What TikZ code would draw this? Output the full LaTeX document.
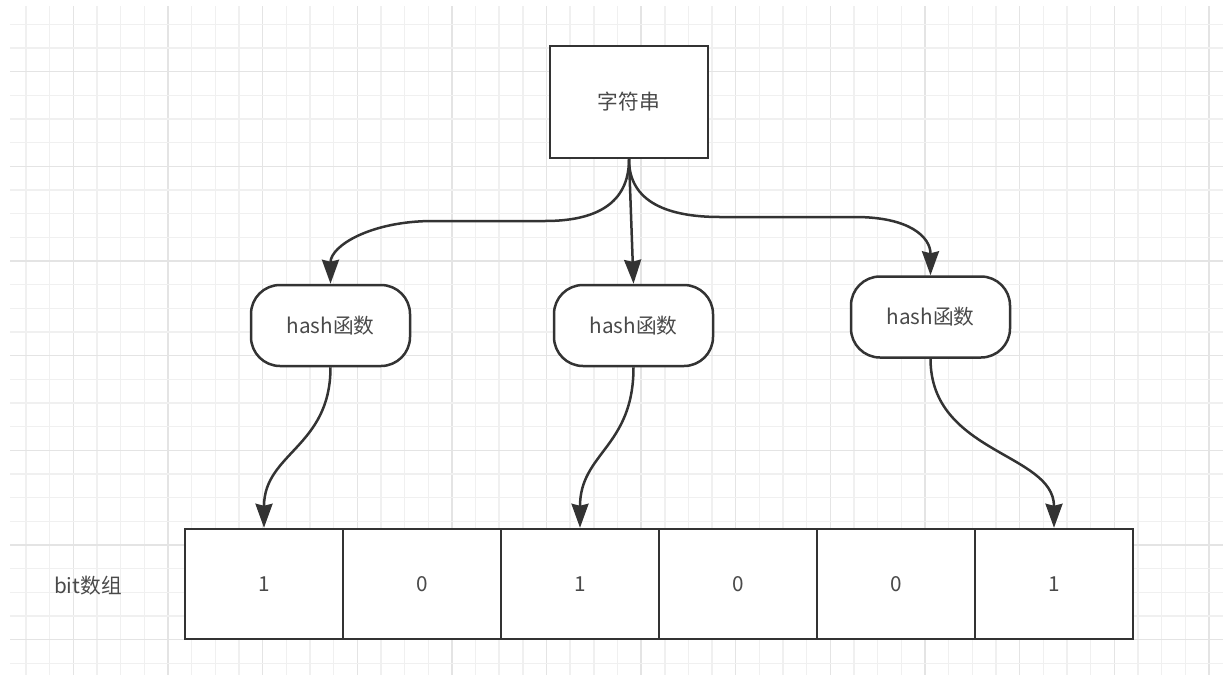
\documentclass[tikz,border=0pt]{standalone}
\usepackage{fontspec}
\setmainfont{Noto Sans CJK SC}
\usetikzlibrary{arrows.meta}
\definecolor{linec}{HTML}{333333}
\definecolor{textc}{HTML}{4A4A4A}
\definecolor{gridminor}{HTML}{F0F0F0}
\definecolor{gridmajor}{HTML}{E4E4E4}
\tikzset{
  lbl/.style={text=textc, font=\fontsize{20.7}{24}\selectfont, inner sep=0pt},
  strbox/.style={lbl, draw=linec, line width=2.5pt, fill=white, minimum width=158pt, minimum height=112pt},
  hashbox/.style={lbl, draw=linec, line width=2.5pt, fill=white, rounded corners=29pt, minimum width=159pt, minimum height=81pt},
  cellbox/.style={lbl, draw=linec, line width=2.5pt, fill=white, minimum width=158pt, minimum height=110pt},
  conn/.style={draw=linec, line width=2.5pt, -{Stealth[length=24pt,width=17pt,inset=2pt]}},
  gminor/.style={draw=gridminor, line width=1.4pt},
  gmajor/.style={draw=gridmajor, line width=1.4pt}
}
\begin{document}
\begin{tikzpicture}[x=1pt,y=-1pt]
\useasboundingbox (0,0) rectangle (1223,675);
\fill[white] (0,0) rectangle (1223,675);
% grid
\foreach \k in {-2,...,48}{
  \pgfmathsetmacro{\xx}{73.3+\k*23.66}
  \pgfmathtruncatemacro{\mm}{mod(\k+8,4)}
  \ifnum\mm=0 \draw[gmajor] (\xx,6) -- (\xx,675); \else \draw[gminor] (\xx,6) -- (\xx,675); \fi
}
\foreach \k in {-2,...,25}{
  \pgfmathsetmacro{\yy}{71.7+\k*23.66}
  \pgfmathtruncatemacro{\mm}{mod(\k+8,4)}
  \ifnum\mm=0 \draw[gmajor] (10,\yy) -- (1223,\yy); \else \draw[gminor] (10,\yy) -- (1223,\yy); \fi
}
% nodes
\node[strbox] (str) at (629,102) {字符串};
\node[hashbox] (h1) at (330.5,325.5) {hash函数};
\node[hashbox] (h2) at (633.5,325.5) {hash函数};
\node[hashbox] (h3) at (930.5,317) {hash函数};
\node[cellbox] (c1) at (264,584) {1};
\node[cellbox] (c2) at (422,584) {0};
\node[cellbox] (c3) at (580,584) {1};
\node[cellbox] (c4) at (738,584) {0};
\node[cellbox] (c5) at (896,584) {0};
\node[cellbox] (c6) at (1054,584) {1};
\node[lbl] (arr) at (88,586) {bit数组};
% waypoints
\coordinate (wl1) at (545,221);
\coordinate (wl2) at (433,221);
\coordinate (wr1) at (720,217);
\coordinate (wr2) at (855,217);
% connectors
\draw[conn] (str.south) .. controls +(0,45) and +(50,0) .. (wl1) -- (wl2) .. controls +(-62,0) and +(0,-38) .. (h1.north);
\draw[conn] (str.south) -- (h2.north);
\draw[conn] (str.south) .. controls +(0,43) and +(-52,0) .. (wr1) -- (wr2) .. controls +(55,0) and +(0,-38) .. (h3.north);
\draw[conn] (h1.south) .. controls +(0,80) and +(0,-75) .. (c1.north);
\draw[conn] (h2.south) .. controls +(0,80) and +(0,-75) .. (c3.north);
\draw[conn] (h3.south) .. controls +(0,95) and +(0,-75) .. (c6.north);
\end{tikzpicture}
\end{document}
